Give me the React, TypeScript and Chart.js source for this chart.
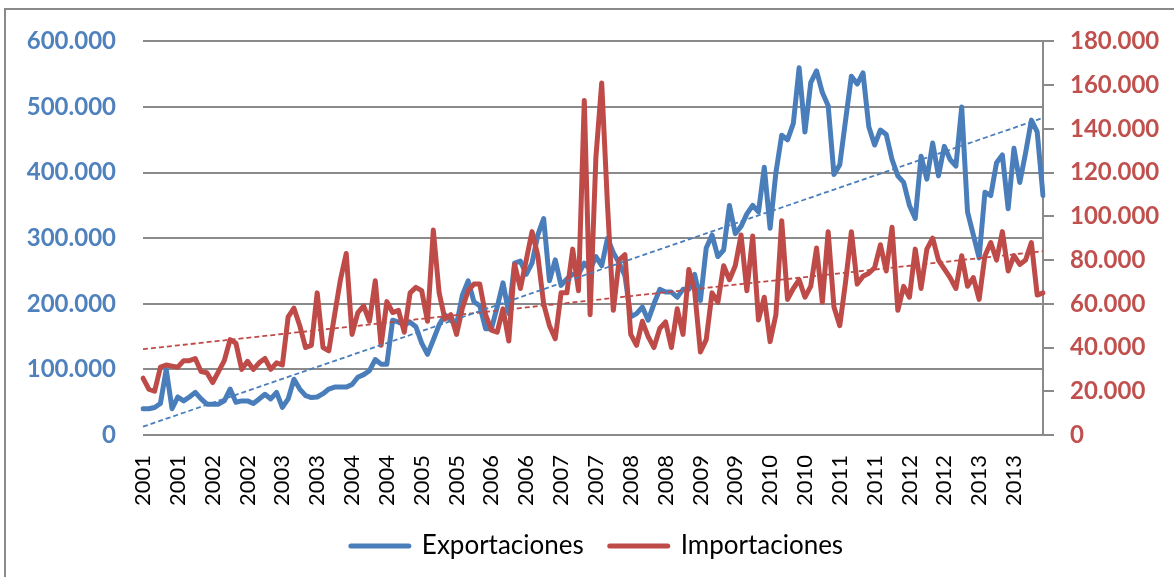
import React, { useEffect, useRef } from 'react';
import { Chart, registerables } from 'chart.js';

Chart.register(...registerables);

// ---- Data ----
const YEARS = [2001, 2002, 2003, 2004, 2005, 2006, 2007, 2008, 2009, 2010, 2011, 2012, 2013];
const MONTHS = ['Ene', 'Feb', 'Mar', 'Abr', 'May', 'Jun', 'Jul', 'Ago', 'Sep', 'Oct', 'Nov', 'Dic'];
const CATEGORIES = YEARS.flatMap((y) => MONTHS.map((m) => `${m} ${y}`));
const TICK_LABELS = YEARS.flatMap((y) => [String(y), String(y)]); // one label every 6 months
const TICK_EVERY = 6;

// miles de dólares (thousands)
const EXPORTACIONES = [
  40, 40, 42, 48, 100, 40, 58, 52, 58, 65, 55, 47,
  47, 47, 52, 70, 50, 52, 52, 48, 55, 62, 55, 65,
  42, 55, 85, 70, 60, 57, 58, 63, 70, 73, 73, 73,
  77, 88, 92, 98, 115, 108, 108, 175, 172, 168, 172, 165,
  140, 123, 145, 168, 183, 175, 168, 213, 235, 203, 197, 162,
  162, 195, 232, 185, 262, 265, 245, 262, 305, 330, 235, 267,
  228, 238, 245, 245, 262, 252, 272, 258, 300, 278, 262, 243,
  180, 185, 195, 175, 200, 222, 218, 218, 210, 222, 222, 245,
  205, 285, 305, 272, 282, 350, 307, 318, 337, 350, 340, 408,
  315, 400, 457, 450, 475, 560, 462, 537, 555, 522, 502, 397,
  412, 480, 547, 535, 552, 470, 442, 465, 458, 420, 395, 385,
  350, 330, 425, 390, 445, 395, 440, 420, 410, 500, 340, 305,
  270, 370, 365, 415, 427, 345, 437, 385, 430, 480, 462, 365,
];

const IMPORTACIONES = [
  26, 21, 20, 31, 32, 31.5, 31, 34, 34, 35, 29, 28.5,
  24, 29, 34, 43.6, 42, 30, 33.7, 30, 33, 35, 30, 33,
  32, 54, 58, 50, 40, 41, 65, 40, 38.5, 55, 71, 83,
  46, 56, 59, 52, 70.5, 41, 61, 56, 57, 47, 65, 67.5,
  66, 52, 93.7, 65, 53, 55, 46, 58, 66, 69, 69, 55,
  48, 47, 57.7, 43, 78, 67, 80, 93, 82, 60, 50, 44,
  65, 65, 85, 66, 153, 55, 127, 161, 105, 57, 80, 82.5,
  46, 41, 52, 45, 40, 48.7, 51.7, 40, 57.7, 46, 75.7, 66,
  38, 43.6, 65, 60.7, 77.4, 71, 77.4, 91.5, 66, 91, 52.6, 63,
  42.7, 55, 98, 62, 67, 71, 63, 68, 85.5, 60.7, 93, 58.5,
  50, 70, 93, 69, 72.6, 74, 76.5, 87, 75, 95, 57, 68,
  63, 85, 67, 85, 90, 80, 76, 72, 67, 82, 68, 72,
  62, 82, 88, 80, 93, 75, 82, 78, 80, 88, 64, 65,
];

const SERIES_NAMES = ['Exportaciones', 'Importaciones'];
const LEFT_AXIS = { min: 0, max: 600000, step: 100000 };
const RIGHT_AXIS = { min: 0, max: 180000, step: 20000 };

// ---- Styles ----
const BLUE = '#4A7EBB';
const RED = '#BE4B48';
const BLUE_TICK = '#4F81BD';
const RED_TICK = '#C0504D';
const GRID = '#8a8a8a';
const FONT = "Lato, 'Open Sans', 'DejaVu Sans', sans-serif";
const W = 1174;
const H = 577;
const PLOT_LEFT = 143;
const PLOT_RIGHT = 1043;
const PLOT_BOTTOM = 435;
const LEGEND_PAD = 26;
const LEGEND_FONT = 26;
const BOTTOM_PAD = 8;
const LEFT_PAD = 20;

const fmt = (v: number) => String(Math.round(v)).replace(/\B(?=(\d{3})+(?!\d))/g, '.');

function linearTrend(values: number[]): number[] {
  const n = values.length;
  let sx = 0, sy = 0, sxy = 0, sxx = 0;
  values.forEach((v, i) => { sx += i; sy += v; sxy += i * v; sxx += i * i; });
  const b = (n * sxy - sx * sy) / (n * sxx - sx * sx);
  const a = (sy - b * sx) / n;
  return values.map((_, i) => a + b * i);
}

export default function App() {
  const ref = useRef<HTMLCanvasElement | null>(null);

  useEffect(() => {
    if (!ref.current) return;
    const exp = EXPORTACIONES.map((v) => v * 1000);
    const imp = IMPORTACIONES.map((v) => v * 1000);
    const chart = new Chart(ref.current, {
      type: 'line',
      data: {
        labels: CATEGORIES,
        datasets: [
          {
            label: SERIES_NAMES[0], data: exp, yAxisID: 'y', borderColor: BLUE, backgroundColor: BLUE,
            borderWidth: 5, pointRadius: 0, tension: 0, borderJoinStyle: 'round', borderCapStyle: 'round', order: 2,
          },
          {
            label: SERIES_NAMES[1], data: imp, yAxisID: 'y1', borderColor: RED, backgroundColor: RED,
            borderWidth: 5, pointRadius: 0, tension: 0, borderJoinStyle: 'round', borderCapStyle: 'round', order: 1,
          },
          {
            label: 'Lineal (Exportaciones)', data: linearTrend(exp), yAxisID: 'y', borderColor: BLUE,
            borderWidth: 1.8, borderDash: [5, 3], pointRadius: 0, tension: 0, order: 0,
          },
          {
            label: 'Lineal (Importaciones)', data: linearTrend(imp), yAxisID: 'y1', borderColor: RED,
            borderWidth: 1.8, borderDash: [5, 3], pointRadius: 0, tension: 0, order: 0,
          },
        ],
      },
      options: {
        responsive: false,
        animation: false,
        layout: { padding: { top: 35, left: LEFT_PAD, right: 0, bottom: BOTTOM_PAD } },
        plugins: {
          tooltip: { enabled: false },
          legend: {
            position: 'bottom',
            labels: {
              usePointStyle: true,
              pointStyleWidth: 58,
              padding: LEGEND_PAD,
              color: '#000',
              font: { family: FONT, size: LEGEND_FONT },
              generateLabels: () => [0, 1].map((i) => ({
                text: SERIES_NAMES[i],
                strokeStyle: i === 0 ? BLUE : RED,
                fillStyle: i === 0 ? BLUE : RED,
                lineWidth: 5,
                lineCap: 'round',
                pointStyle: 'line',
                hidden: false,
                datasetIndex: i,
                fontColor: '#000',
              })) as any,
            },
          },
        },
        scales: {
          x: {
            type: 'category',
            offset: false,
            grid: { display: false },
            border: { display: false },
            ticks: {
              autoSkip: false,
              maxRotation: 90,
              minRotation: 90,
              padding: 12,
              color: '#000',
              font: { family: FONT, size: 22 },
              callback: (_v: any, i: number) => (i % TICK_EVERY === 0 ? TICK_LABELS[i / TICK_EVERY] : null),
            },
            afterFit: (s: any) => {
              const lh = s.chart.legend && s.chart.legend.height ? s.chart.legend.height : LEGEND_FONT + LEGEND_PAD + 10;
              s.height = H - BOTTOM_PAD - lh - PLOT_BOTTOM;
            },
          },
          y: {
            position: 'left',
            min: LEFT_AXIS.min,
            max: LEFT_AXIS.max,
            ticks: {
              stepSize: LEFT_AXIS.step,
              padding: 27,
              color: BLUE_TICK,
              font: { family: FONT, size: 24, weight: 'bold' },
              callback: (v: any) => fmt(Number(v)),
            },
            grid: { color: GRID, lineWidth: 2, drawTicks: false },
            border: { display: false },
            afterFit: (s: any) => { s.width = PLOT_LEFT - LEFT_PAD; },
          },
          y1: {
            position: 'right',
            min: RIGHT_AXIS.min,
            max: RIGHT_AXIS.max,
            ticks: {
              stepSize: RIGHT_AXIS.step,
              padding: 16,
              color: RED_TICK,
              font: { family: FONT, size: 24, weight: 'bold' },
              callback: (v: any) => fmt(Number(v)),
            },
            grid: { drawOnChartArea: false, drawTicks: true, tickLength: 11, color: GRID, lineWidth: 2 },
            border: { display: true, color: GRID, width: 2 },
            afterFit: (s: any) => { s.width = W - PLOT_RIGHT; },
          },
        },
      } as any,
    });
    return () => chart.destroy();
  }, []);

  return (
    <div style={{ position: 'absolute', left: 0, top: 0, width: W, height: H, background: '#fff', overflow: 'hidden' }}>
      <div
        style={{
          position: 'absolute', left: 4, top: 8, width: W + 20, height: H + 20,
          borderTop: `2px solid ${GRID}`, borderLeft: `2px solid ${GRID}`,
        }}
      />
      <canvas ref={ref} width={W} height={H} style={{ position: 'absolute', left: 0, top: 0 }} />
    </div>
  );
}
